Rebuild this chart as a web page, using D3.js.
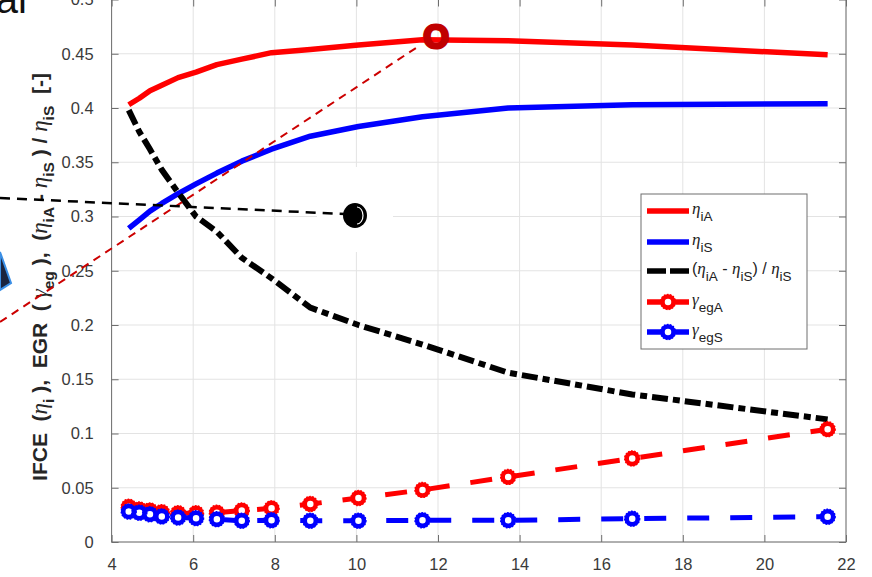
<!DOCTYPE html>
<html><head><meta charset="utf-8">
<script src="https://cdn.jsdelivr.net/npm/d3@7"></script>
<style>body{margin:0;background:#fff}svg{display:block}</style>
</head><body>
<svg id="c" width="872" height="577"></svg>
<script>
// ---- data ----
const xVals    = [4.42, 4.68, 4.94, 5.23, 5.63, 6.07, 6.58, 7.19, 7.92, 8.87, 10.05, 11.62, 13.72, 16.76, 21.55];
const etaIA    = [0.403, 0.409, 0.416, 0.421, 0.428, 0.433, 0.440, 0.445, 0.451, 0.454, 0.458, 0.463, 0.462, 0.458, 0.449];
const etaIS    = [0.289, 0.297, 0.305, 0.312, 0.321, 0.330, 0.340, 0.351, 0.362, 0.374, 0.383, 0.392, 0.400, 0.403, 0.404];
const ratio    = [0.398, 0.378, 0.362, 0.343, 0.322, 0.300, 0.286, 0.262, 0.243, 0.216, 0.200, 0.182, 0.156, 0.136, 0.113];
const gammaEgA = [0.0325, 0.0300, 0.0290, 0.0275, 0.0265, 0.0265, 0.0270, 0.0290, 0.0310, 0.0350, 0.0405, 0.0480, 0.0600, 0.0770, 0.1040];
const gammaEgS = [0.0280, 0.0270, 0.0255, 0.0235, 0.0225, 0.0220, 0.0210, 0.0196, 0.0200, 0.0196, 0.0196, 0.0200, 0.0200, 0.0215, 0.0233];
const xTicks   = [4, 6, 8, 10, 12, 14, 16, 18, 20, 22];
const yTicks   = [0, 0.05, 0.1, 0.15, 0.2, 0.25, 0.3, 0.35, 0.4, 0.45, 0.5];
const yTickLabels = ["0", "0.05", "0.1", "0.15", "0.2", "0.25", "0.3", "0.35", "0.4", "0.45", "0.5"];

const svg = d3.select("#c");
const L = 111.6, R = 846, T = -0.5, B = 542;
const x = d3.scaleLinear().domain([4, 22]).range([L, R]);
const y = d3.scaleLinear().domain([0, 0.5]).range([B, T]);
const axisCol = "#6e6e6e", gridCol = "#e3e3e3", txtCol = "#3a3a3a";
const sans = "'Liberation Sans', Arial, Helvetica, sans-serif";
const serif = "'Liberation Serif', 'DejaVu Serif', serif";

// grid
const g = svg.append("g");
g.selectAll(".gx").data(xTicks).join("line")
  .attr("x1", d => x(d)).attr("x2", d => x(d)).attr("y1", T).attr("y2", B)
  .attr("stroke", gridCol).attr("stroke-width", 1);
g.selectAll(".gy").data(yTicks).join("line")
  .attr("x1", L).attr("x2", R).attr("y1", d => y(d)).attr("y2", d => y(d))
  .attr("stroke", gridCol).attr("stroke-width", 1);

// white patch of the pasted annotation
svg.append("rect").attr("x", 317).attr("y", 167).attr("width", 76).attr("height", 85).attr("fill", "#fff");

// axes (box, ticks inward)
const ax = svg.append("g");
ax.append("rect").attr("x", L).attr("y", T).attr("width", R - L).attr("height", B - T)
  .attr("fill", "none").attr("stroke", axisCol).attr("stroke-width", 1);
const xAxisB = d3.axisBottom(x).tickValues(xTicks).tickSizeInner(-7).tickSizeOuter(0).tickPadding(16).tickFormat(d3.format("d"));
const xAxisT = d3.axisTop(x).tickValues(xTicks).tickSizeInner(-7).tickSizeOuter(0).tickFormat("");
const yAxisL = d3.axisLeft(y).tickValues(yTicks).tickSizeInner(-7).tickSizeOuter(0).tickPadding(18).tickFormat((d, i) => yTickLabels[i]);
const yAxisR = d3.axisRight(y).tickValues(yTicks).tickSizeInner(-7).tickSizeOuter(0).tickFormat("");
function styleAxis(sel) {
  sel.select(".domain").remove();
  sel.selectAll("line").attr("stroke", axisCol);
  sel.selectAll("text").attr("fill", txtCol).attr("font-family", sans).attr("font-size", 16.5);
}
ax.append("g").attr("transform", `translate(0,${B})`).call(xAxisB).call(styleAxis);
ax.append("g").attr("transform", `translate(0,${T})`).call(xAxisT).call(styleAxis);
ax.append("g").attr("transform", `translate(${L},0)`).call(yAxisL).call(styleAxis);
ax.append("g").attr("transform", `translate(${R},0)`).call(yAxisR).call(styleAxis);

// series
const idx = d3.range(xVals.length);
const line = arr => d3.line().x(i => x(xVals[i])).y(i => y(arr[i]))(idx);
const plot = svg.append("g");
plot.append("path").attr("d", line(etaIA)).attr("fill", "none").attr("stroke", "#ff0000").attr("stroke-width", 5.5).attr("stroke-linejoin", "round");
plot.append("path").attr("d", line(etaIS)).attr("fill", "none").attr("stroke", "#0000ff").attr("stroke-width", 5.5).attr("stroke-linejoin", "round");
plot.append("path").attr("d", line(ratio)).attr("fill", "none").attr("stroke", "#000").attr("stroke-width", 6).attr("stroke-dasharray", "16,5,7,5");

function markerSeries(arr, col) {
  plot.append("path").attr("d", line(arr)).attr("fill", "none").attr("stroke", col).attr("stroke-width", 5).attr("stroke-dasharray", "22,21");
  const m = plot.append("g");
  m.selectAll("circle.a").data(idx).join("circle")
    .attr("cx", i => x(xVals[i])).attr("cy", i => y(arr[i])).attr("r", 5.5)
    .attr("fill", "#fff").attr("stroke", col).attr("stroke-width", 4.5);
  m.selectAll("circle.b").data(idx).join("circle")
    .attr("cx", i => x(xVals[i])).attr("cy", i => y(arr[i])).attr("r", 7.3)
    .attr("fill", "none").attr("stroke", col).attr("stroke-width", 1.8).attr("stroke-dasharray", "1.6,1.4");
}
markerSeries(gammaEgA, "#ff0000");
markerSeries(gammaEgS, "#0000ff");

// legend
const lg = svg.append("g");
lg.append("rect").attr("x", 641).attr("y", 194).attr("width", 166).attr("height", 155)
  .attr("fill", "#fff").attr("stroke", "#6e6e6e").attr("stroke-width", 1);
const legendItems = [
  {sym: "η", sub: "iA", col: "#ff0000", dash: null, mk: false},
  {sym: "η", sub: "iS", col: "#0000ff", dash: null, mk: false},
  {sym: null, col: "#000", dash: "19,4", mk: false},
  {sym: "γ", sub: "egA", col: "#ff0000", dash: null, mk: true},
  {sym: "γ", sub: "egS", col: "#0000ff", dash: null, mk: true}
];
const legY = [211, 242, 271, 302, 332];
legendItems.forEach((it, i) => {
  const yy = legY[i];
  const ln = lg.append("line").attr("x1", 647).attr("x2", 689).attr("y1", yy).attr("y2", yy)
    .attr("stroke", it.col).attr("stroke-width", 5.5);
  if (it.dash) ln.attr("stroke-dasharray", it.dash);
  if (it.mk) {
    lg.append("circle").attr("cx", 668).attr("cy", yy).attr("r", 5.5).attr("fill", "#fff").attr("stroke", it.col).attr("stroke-width", 4.5);
    lg.append("circle").attr("cx", 668).attr("cy", yy).attr("r", 7.3).attr("fill", "none").attr("stroke", it.col).attr("stroke-width", 1.8).attr("stroke-dasharray", "1.6,1.4");
  }
  const t = lg.append("text").attr("x", 692).attr("y", yy + 3).attr("fill", "#222").attr("font-family", sans).attr("font-size", 16);
  if (it.sym) {
    t.append("tspan").attr("font-family", serif).attr("font-style", "italic").attr("font-size", 17).text(it.sym);
    t.append("tspan").attr("dy", 7).attr("font-size", 13.5).text(it.sub);
  } else {
    t.append("tspan").text("(");
    t.append("tspan").attr("font-family", serif).attr("font-style", "italic").attr("font-size", 17).text("η");
    t.append("tspan").attr("dy", 7).attr("font-size", 13.5).text("iA");
    t.append("tspan").attr("dy", -7).text(" - ");
    t.append("tspan").attr("font-family", serif).attr("font-style", "italic").attr("font-size", 17).text("η");
    t.append("tspan").attr("dy", 7).attr("font-size", 13.5).text("iS");
    t.append("tspan").attr("dy", -7).text(") / ");
    t.append("tspan").attr("font-family", serif).attr("font-style", "italic").attr("font-size", 17).text("η");
    t.append("tspan").attr("dy", 7).attr("font-size", 13.5).text("iS");
  }
});

// y label
const yl = svg.append("text").attr("transform", "translate(47,277) rotate(-90)")
  .attr("text-anchor", "middle").attr("fill", "#262626").attr("font-family", sans)
  .attr("font-size", 21).attr("font-weight", "bold");
const parts = [
  ["t", "IFCE  ("], ["g", "η"], ["s", "i"], ["t", " ),  EGR  ( "], ["g", "γ"], ["s", "eg"],
  ["t", " ),  ("], ["g", "η"], ["s", "iA"], ["t", " - "], ["g", "η"], ["s", "iS"],
  ["t", " ) / "], ["g", "η"], ["s", "iS"], ["t", "  [-]"]
];
let prevSub = false;
parts.forEach(([k, s]) => {
  const ts = yl.append("tspan").text(s).attr("xml:space", "preserve");
  if (k === "g") ts.attr("font-family", serif).attr("font-style", "italic").attr("font-weight", "normal").attr("font-size", 23);
  if (k === "s") { ts.attr("font-size", 15.5).attr("dy", 6.5); prevSub = true; }
  else if (prevSub) { ts.attr("dy", -6.5); prevSub = false; }
});
yl.style("white-space", "pre");

// overlay annotations
const ann = svg.append("g");
ann.append("text").attr("x", 27).attr("y", 13).attr("text-anchor", "end").attr("font-family", sans)
  .attr("font-size", 40).attr("fill", "#111").text("al");
ann.append("polygon").attr("points", "0,252 11,283 0,290").attr("fill", "#1b2540").attr("stroke", "#3b8fe6").attr("stroke-width", 2);
ann.append("line").attr("x1", 0).attr("y1", 322).attr("x2", 419).attr("y2", 46)
  .attr("stroke", "#cc0000").attr("stroke-width", 2).attr("stroke-dasharray", "8,6");
ann.append("text").attr("x", 436).attr("y", 48).attr("text-anchor", "middle").attr("font-family", sans)
  .attr("font-weight", "bold").attr("font-size", 33).attr("fill", "#c00000")
  .attr("stroke", "#c00000").attr("stroke-width", 3).attr("stroke-linejoin", "round").text("O");
ann.append("line").attr("x1", 0).attr("y1", 198).attr("x2", 345).attr("y2", 214)
  .attr("stroke", "#000").attr("stroke-width", 2.5).attr("stroke-dasharray", "10,7");
ann.append("ellipse").attr("cx", 355).attr("cy", 215.5).attr("rx", 12).attr("ry", 12.5).attr("fill", "#000");
ann.append("path").attr("d", "M357,207 A6,8.5 0 0 1 357,224").attr("fill", "none").attr("stroke", "#fff").attr("stroke-width", 1.2);
</script>
</body></html>
